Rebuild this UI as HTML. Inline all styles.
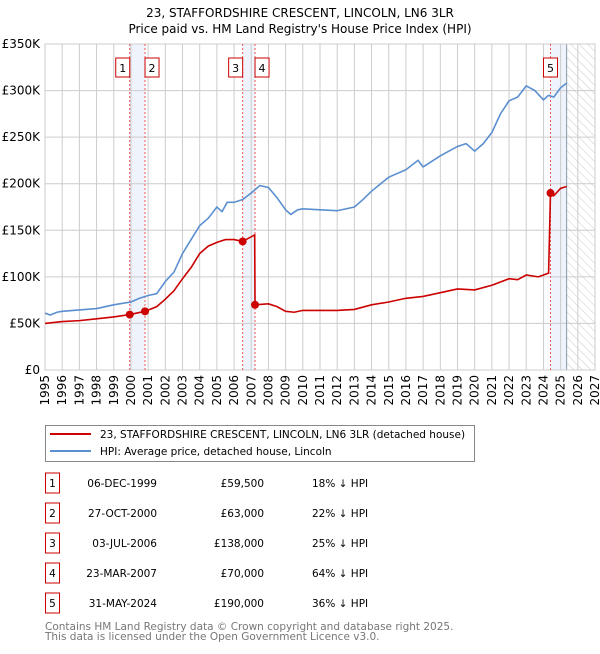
<!DOCTYPE html>
<html><head><meta charset="utf-8"><style>
body{margin:0;background:#fff;font-family:"DejaVu Sans","Liberation Sans",sans-serif;}
svg text{font-family:"DejaVu Sans","Liberation Sans",sans-serif;}
</style></head><body>
<svg id="c" width="600" height="650" xmlns="http://www.w3.org/2000/svg">
<defs><pattern id="h" width="6" height="6" patternUnits="userSpaceOnUse" patternTransform="rotate(-45)"><line x1="0" y1="0" x2="0" y2="6" stroke="#ccc" stroke-width="1"/></pattern></defs>
<text x="300" y="17" text-anchor="middle" font-size="12">23, STAFFORDSHIRE CRESCENT, LINCOLN, LN6 3LR</text>
<text x="300" y="33" text-anchor="middle" font-size="12">Price paid vs. HM Land Registry's House Price Index (HPI)</text>
<g id="plot"></g>
<g>
<rect x="45.5" y="425.5" width="429" height="36" fill="#fff" stroke="#888"/>
<line x1="50" y1="434" x2="91" y2="434" stroke="#cc0000" stroke-width="2"/>
<text x="100" y="438" font-size="10.5">23, STAFFORDSHIRE CRESCENT, LINCOLN, LN6 3LR (detached house)</text>
<line x1="50" y1="451" x2="91" y2="451" stroke="#5b8fd0" stroke-width="2"/>
<text x="100" y="455" font-size="10.5">HPI: Average price, detached house, Lincoln</text>
</g>
<g id="tbl" font-size="10.5"></g>
<text x="45" y="630" font-size="10.5" fill="#777">Contains HM Land Registry data © Crown copyright and database right 2025.</text>
<text x="45" y="640" font-size="10.5" fill="#777">This data is licensed under the Open Government Licence v3.0.</text>
</svg>
<script>
const hpiYears=[1995,1995.3,1995.7,1996,1997,1998,1998.5,1999,2000,2000.5,2001,2001.5,2002,2002.5,2003,2003.5,2004,2004.5,2005,2005.3,2005.6,2006,2006.5,2007,2007.5,2008,2008.5,2009,2009.3,2009.7,2010,2011,2012,2013,2013.5,2014,2015,2016,2016.7,2017,2018,2019,2019.5,2020,2020.5,2021,2021.5,2022,2022.5,2023,2023.5,2024,2024.3,2024.6,2025,2025.35];
const hpiValues=[61,59,62,63,64.5,66,68,70,73,77,80,82,95,105,125,140,155,163,175,170,180,180,183,190,198,196,185,172,167,172,173,172,171,175,183,192,207,215,225,218,230,240,243,235,243,255,275,289,293,305,300,290,295,293,303,308];
const ppYears=[1995,1996,1997,1998,1999,1999.93,2000.82,2001.5,2002,2002.5,2003,2003.5,2004,2004.5,2005,2005.5,2006,2006.5,2007.2,2007.22,2008,2008.5,2009,2009.5,2010,2011,2012,2013,2014,2015,2016,2017,2018,2019,2020,2021,2022,2022.5,2023,2023.7,2024.3,2024.41,2024.6,2025,2025.35];
const ppValues=[50,52,53,55,57,59.5,63,68,76,85,98,110,125,133,137,140,140,138,145,70,71,68,63,62,64,64,64,65,70,73,77,79,83,87,86,91,98,97,102,100,104,190,187,195,197];
const saleYears=[1999.93,2000.82,2006.5,2007.22,2024.41];
const saleValues=[59.5,63,138,70,190];
const saleLabels=["1","2","3","4","5"];
const saleDates=["06-DEC-1999","27-OCT-2000","03-JUL-2006","23-MAR-2007","31-MAY-2024"];
const salePrices=["£59,500","£63,000","£138,000","£70,000","£190,000"];
const saleDiffs=["18% ↓ HPI","22% ↓ HPI","25% ↓ HPI","64% ↓ HPI","36% ↓ HPI"];
const yTicks=[0,50,100,150,200,250,300,350];
const yTickLabels=["£0","£50K","£100K","£150K","£200K","£250K","£300K","£350K"];
const xTicks=[1995,1996,1997,1998,1999,2000,2001,2002,2003,2004,2005,2006,2007,2008,2009,2010,2011,2012,2013,2014,2015,2016,2017,2018,2019,2020,2021,2022,2023,2024,2025,2026,2027];
const dataEnd=2025.35;
const L=45,R=595,T=44,B=370;
const X=v=>L+(v-1995)/(2027-1995)*(R-L);
const Y=v=>B-v/350*(B-T);
const NS="http://www.w3.org/2000/svg";
const g=document.getElementById('plot');
function mk(tag,attrs,parent){const e=document.createElementNS(NS,tag);for(const k in attrs)e.setAttribute(k,attrs[k]);(parent||g).appendChild(e);return e;}
let e;
// shaded bands
const bands=[[saleYears[0],saleYears[1]],[saleYears[2],saleYears[3]],[saleYears[4],dataEnd]];
bands.forEach(b=>{e=mk('rect',{x:X(b[0]),y:T,width:X(b[1])-X(b[0]),height:B-T,fill:'#eef3fc'});

});
e=mk('rect',{x:X(dataEnd),y:T,width:R-X(dataEnd),height:B-T,fill:'url(#h)'});


// grid
xTicks.forEach(t=>{e=mk('line',{x1:X(t),x2:X(t),y1:T,y2:B,stroke:'#ccc','stroke-width':1});


e=mk('text',{x:0,y:0,'font-size':12,'text-anchor':'end',transform:`translate(${X(t)+4},${B+5}) rotate(-90)`});
e.textContent=t;

});
yTicks.forEach((t,i)=>{e=mk('line',{x1:L,x2:R,y1:Y(t),y2:Y(t),stroke:'#ccc','stroke-width':1});


e=mk('text',{x:40,y:Y(t)+4,'font-size':12,'text-anchor':'end'});
e.textContent=yTickLabels[i];

});
e=mk('line',{x1:X(dataEnd),x2:X(dataEnd),y1:T,y2:B,stroke:'#8899aa','stroke-width':1});


e=mk('rect',{x:L,y:T,width:R-L,height:B-T,fill:'none',stroke:'#ccc'});


// sale vlines
saleYears.forEach(s=>{e=mk('line',{x1:X(s),x2:X(s),y1:T,y2:B,stroke:'#ee5555','stroke-width':1,'stroke-dasharray':'2,2'});

});
// series
e=mk('polyline',{points:hpiYears.map((v,i)=>X(v)+','+Y(hpiValues[i])).join(' '),fill:'none',stroke:'#5b8fd0','stroke-width':1.6});


e=mk('polyline',{points:ppYears.map((v,i)=>X(v)+','+Y(ppValues[i])).join(' '),fill:'none',stroke:'#cc0000','stroke-width':1.6});


saleYears.forEach((s,i)=>{e=mk('circle',{cx:X(s),cy:Y(saleValues[i]),r:4,fill:'#cc0000'});

});
// label boxes
saleYears.forEach((s,i)=>{let cx=X(s);
if(i==0||i==2)cx-=7; else if(i==1||i==3)cx+=7;
e=mk('rect',{x:cx-7,y:58,width:14,height:19,fill:'#fff',stroke:'#cc0000'});


e=mk('text',{x:cx,y:72,'font-size':11,'text-anchor':'middle'});
e.textContent=saleLabels[i];

});
// table
const tb=document.getElementById('tbl');
saleLabels.forEach((l,i)=>{const cy=483+30*i;
e=mk('rect',{x:45.5,y:cy-10,width:14,height:20,fill:'#fff',stroke:'#cc0000'},tb);


e=mk('text',{x:52.5,y:cy+4,'text-anchor':'middle'},tb);e.textContent=l;


e=mk('text',{x:157,y:cy+4,'text-anchor':'end'},tb);e.textContent=saleDates[i];


e=mk('text',{x:264,y:cy+4,'text-anchor':'end'},tb);e.textContent=salePrices[i];


e=mk('text',{x:312,y:cy+4},tb);e.textContent=saleDiffs[i];

});
</script>
</body></html>
